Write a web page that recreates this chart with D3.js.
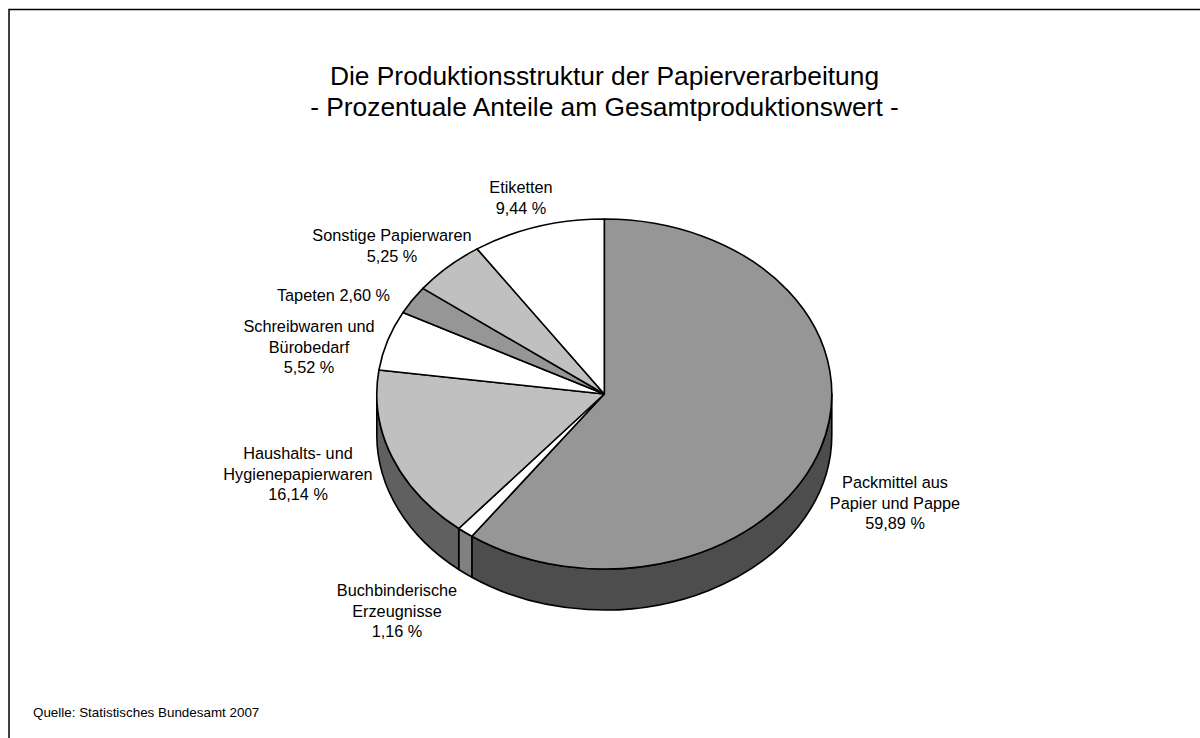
<!DOCTYPE html>
<html><head><meta charset="utf-8">
<script src="https://cdn.jsdelivr.net/npm/d3@7"></script>
<style>html,body{margin:0;padding:0;background:#fff}svg{display:block}text{font-family:"Liberation Sans",Arial,sans-serif;fill:#000}</style>
</head><body><svg id="c" width="1200" height="738"></svg>
<script>
const categories=["Packmittel aus Papier und Pappe","Buchbinderische Erzeugnisse","Haushalts- und Hygienepapierwaren","Schreibwaren und Bürobedarf","Tapeten","Sonstige Papierwaren","Etiketten"];
const shares=[59.89,1.16,16.14,5.52,2.60,5.25,9.44];
const topColors=["#969696","#ffffff","#c0c0c0","#ffffff","#969696","#c0c0c0","#ffffff"];
const sideColors=["#4d4d4d","#808080","#606060","#808080","#4d4d4d","#606060","#808080"];
const titleLines=["Die Produktionsstruktur der Papierverarbeitung","- Prozentuale Anteile am Gesamtproduktionswert -"];
const sourceText="Quelle: Statistisches Bundesamt 2007";
const labelLines=[["Packmittel aus","Papier und Pappe","59,89 %"],["Buchbinderische","Erzeugnisse","1,16 %"],["Haushalts- und","Hygienepapierwaren","16,14 %"],["Schreibwaren und","Bürobedarf","5,52 %"],["Tapeten 2,60 %"],["Sonstige Papierwaren","5,25 %"],["Etiketten","9,44 %"]];
const labelPos=[[895,488],[397,596],[298,459],[309,332],[333.5,301],[392,241],[521,193]];

const svg=d3.select("#c");
const cx=604.3,cy=394,rx=227.5,ry=175,depth=41;
const sx=d3.scaleLinear().domain([-1,1]).range([cx-rx,cx+rx]);
const sy=d3.scaleLinear().domain([-1,1]).range([cy-ry,cy+ry]);
const px=a=>sx(Math.sin(a)), py=a=>sy(-Math.cos(a));
const arcs=d3.pie().sort(null).value(d=>d)(shares);

// frame
svg.append("path").attr("d","M9,738V9.5H1200").attr("fill","none").attr("stroke","#000").attr("stroke-width",1.5);

// side walls (front half only)
const g=svg.append("g").attr("stroke","#000").attr("stroke-width",1.6).attr("stroke-linejoin","round");
const lo=Math.PI/2, hi=Math.PI*1.5;
arcs.forEach((d,i)=>{
  const a0=Math.max(d.startAngle,lo),a1=Math.min(d.endAngle,hi);
  if(a1<=a0) return;
  const p=`M${px(a0)},${py(a0)}A${rx},${ry} 0 0 1 ${px(a1)},${py(a1)}L${px(a1)},${py(a1)+depth}A${rx},${ry} 0 0 0 ${px(a0)},${py(a0)+depth}Z`;
  g.append("path").attr("d",p).attr("fill",sideColors[i]);
});
// top slices
arcs.forEach((d,i)=>{
  const large=d.endAngle-d.startAngle>Math.PI?1:0;
  const p=`M${cx},${cy}L${px(d.startAngle)},${py(d.startAngle)}A${rx},${ry} 0 ${large} 1 ${px(d.endAngle)},${py(d.endAngle)}Z`;
  g.append("path").attr("d",p).attr("fill",topColors[i]);
});
// labels
labelLines.forEach((lines,i)=>{
  const t=svg.append("text").attr("text-anchor","middle").attr("font-size",16.3);
  lines.forEach((s,j)=>t.append("tspan").attr("x",labelPos[i][0]).attr("y",labelPos[i][1]+j*20.6).text(s));
});
// title
titleLines.forEach((s,j)=>svg.append("text").attr("x",604.5).attr("y",85+j*31).attr("text-anchor","middle").attr("font-size",26.35).text(s));
svg.append("text").attr("x",33).attr("y",717).attr("font-size",13.4).text(sourceText);
</script></body></html>
